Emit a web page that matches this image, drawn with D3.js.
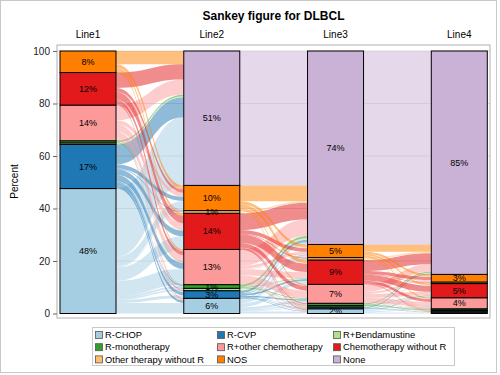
<!DOCTYPE html>
<html lang="en">
<head>
<meta charset="UTF-8">
<title>Sankey figure for DLBCL</title>
<style>
  body { margin: 0; background: #fff; }
  svg text { font-family: "Liberation Sans", Arial, sans-serif; }
</style>
</head>
<body>
<svg width="500" height="375" id="svg"></svg>
<script src="https://d3js.org/d3.v7.min.js"></script>
<script>
  // treatment categories, bottom of each bar first
  const categories = ["R-CHOP", "R-CVP", "R+Bendamustine", "R-monotherapy", "R+other chemotherapy",
    "Chemotherapy without R", "Other therapy without R", "NOS", "None"]
  const colors = ["#a6cee3", "#1f78b4", "#b2df8a", "#33a02c", "#fb9a99", "#e31a1c", "#fdbf6f", "#ff7f00", "#cab2d6"]
  const lines = ["Line1", "Line2", "Line3", "Line4"]
  const yTicks = [0, 20, 40, 60, 80, 100]

  // percent of patients in each category per line
  const line1 = [47.6, 16.8, 0.6, 0.8, 13.6, 12.4, 0, 8.2, 0]
  const line2 = [5.8, 2.9, 0.9, 1.4, 13.4, 13.8, 1.0, 9.6, 51.2]
  const line3 = [1.8, 0.7, 0.5, 0.9, 7.2, 9.3, 0.9, 5.0, 73.7]
  const line4 = [0.5, 0.5, 0.3, 0.5, 4.2, 5.4, 0.6, 2.9, 85.1]

  // flows between lines: row = source category, column = target category
  const flows12 = [
    [4.0, 1.2, 0.5, 0.8, 6.0, 5.0, 0.4, 3.7, 26.0],
    [1.0, 1.2, 0.2, 0.4, 2.4, 2.2, 0.2, 1.6, 7.6],
    [0, 0, 0, 0, 0.1, 0.1, 0, 0, 0.4],
    [0, 0, 0, 0.1, 0.2, 0, 0, 0, 0.5],
    [0.5, 0.3, 0.1, 0.1, 2.5, 2.6, 0.2, 1.5, 5.8],
    [0.2, 0.2, 0.1, 0, 1.5, 3.0, 0.2, 1.3, 5.9],
    [0, 0, 0, 0, 0, 0, 0, 0, 0],
    [0.1, 0, 0, 0, 0.7, 0.9, 0, 1.5, 5.0],
    [0, 0, 0, 0, 0, 0, 0, 0, 0]
  ]
  const flows23 = [
    [0.8, 0.2, 0.2, 0.2, 1.0, 1.4, 0.2, 1.0, 0.8],
    [0.2, 0.2, 0, 0.1, 0.5, 0.6, 0.1, 0.2, 1.0],
    [0, 0, 0, 0, 0.2, 0.1, 0, 0, 0.6],
    [0, 0, 0, 0.1, 0.3, 0.2, 0, 0, 0.8],
    [0.3, 0.1, 0.1, 0.2, 2.8, 2.4, 0.2, 1.0, 6.3],
    [0.3, 0.1, 0.1, 0.2, 1.8, 3.2, 0.3, 1.4, 6.4],
    [0, 0, 0, 0, 0, 0.2, 0, 0.2, 0.6],
    [0.2, 0.1, 0.1, 0.1, 0.6, 1.2, 0.1, 1.2, 6.0],
    [0, 0, 0, 0, 0, 0, 0, 0, 51.2]
  ]
  const flows34 = [
    [0.3, 0.1, 0, 0, 0.4, 0.6, 0.1, 0.2, 0.1],
    [0, 0.2, 0, 0, 0.1, 0.1, 0, 0, 0.3],
    [0, 0, 0.2, 0, 0.1, 0, 0, 0, 0.2],
    [0, 0, 0, 0.2, 0.1, 0.2, 0, 0, 0.4],
    [0.1, 0, 0, 0.1, 1.9, 1.4, 0.2, 0.6, 2.9],
    [0, 0.1, 0.1, 0.1, 1.1, 2.3, 0.2, 1.2, 4.2],
    [0, 0, 0, 0, 0, 0.2, 0, 0.2, 0.5],
    [0.1, 0.1, 0, 0.1, 0.5, 0.6, 0.1, 0.7, 2.8],
    [0, 0, 0, 0, 0, 0, 0, 0, 73.7]
  ]

  const lineValues = [line1, line2, line3, line4]
  const flowSets = [flows12, flows23, flows34]

  const svg = d3.select("svg#svg")
  const plot = { left: 57, right: 490, top: 45, bottom: 318 }
  const barWidth = 56

  const x = d3.scalePoint().domain(lines).range([88, 459.3])
  const y = d3.scaleLinear().domain([0, 100]).range([313.5, 51])

  // outer border
  svg.append("rect").attr("x", 0.5).attr("y", 0.5).attr("width", 496).attr("height", 372)
    .attr("fill", "#fff").attr("stroke", "#c8c8c8")

  // title
  svg.append("text").attr("x", (plot.left + plot.right) / 2).attr("y", 20)
    .attr("text-anchor", "middle").attr("font-size", 12).attr("font-weight", "bold")
    .text("Sankey figure for DLBCL")

  // grid lines
  svg.append("g").selectAll("line").data(yTicks.slice(1)).join("line")
    .attr("x1", plot.left).attr("x2", plot.right)
    .attr("y1", d => y(d)).attr("y2", d => y(d))
    .attr("stroke", "#e0e0e0")

  // flows
  const flowG = svg.append("g")
  flowSets.forEach((m, k) => {
    const x0 = x(lines[k]) + barWidth / 2
    const x1 = x(lines[k + 1]) - barWidth / 2
    const xm = (x0 + x1) / 2
    const srcOff = d3.cumsum([0, ...lineValues[k]]).slice(0, 9)
    const tgtOff = d3.cumsum([0, ...lineValues[k + 1]]).slice(0, 9)
    const ribbons = []
    m.forEach((row, i) => {
      row.forEach((v, j) => {
        if (v <= 0) return
        const s0 = srcOff[i], s1 = s0 + v
        const t0 = tgtOff[j], t1 = t0 + v
        srcOff[i] = s1
        tgtOff[j] = t1
        ribbons.push({ i, s0, s1, t0, t1 })
      })
    })
    flowG.selectAll(null).data(ribbons).join("path")
      .attr("d", d => `M${x0},${y(d.s1)}C${xm},${y(d.s1)} ${xm},${y(d.t1)} ${x1},${y(d.t1)}` +
        `L${x1},${y(d.t0)}C${xm},${y(d.t0)} ${xm},${y(d.s0)} ${x0},${y(d.s0)}Z`)
      .attr("fill", d => colors[d.i])
      .attr("fill-opacity", 0.5)
  })

  // stacked bars
  lines.forEach((ln, k) => {
    const vals = lineValues[k]
    const starts = d3.cumsum([0, ...vals])
    const segs = vals.map((v, i) => ({ i, v, y0: starts[i], y1: starts[i] + v })).filter(d => d.v > 0)
    const g = svg.append("g")
    g.selectAll("rect").data(segs).join("rect")
      .attr("x", x(ln) - barWidth / 2).attr("width", barWidth)
      .attr("y", d => y(d.y1)).attr("height", d => y(d.y0) - y(d.y1))
      .attr("fill", d => colors[d.i]).attr("stroke", "#000").attr("stroke-width", 1)
    g.selectAll("text").data(segs.filter(d => d.v >= 1)).join("text")
      .attr("x", x(ln)).attr("y", d => y((d.y0 + d.y1) / 2))
      .attr("dy", "0.35em").attr("text-anchor", "middle").attr("font-size", 9)
      .text(d => Math.round(d.v) + "%")
  })

  // line names
  svg.append("g").selectAll("text").data(lines).join("text")
    .attr("x", d => x(d)).attr("y", 38).attr("text-anchor", "middle")
    .attr("font-size", 10).text(d => d)

  // plot frame
  svg.append("rect").attr("x", plot.left).attr("y", plot.top)
    .attr("width", plot.right - plot.left).attr("height", plot.bottom - plot.top)
    .attr("fill", "none").attr("stroke", "#b0b0b0")

  // y axis
  const yAxis = d3.axisLeft(y).tickValues(yTicks).tickSize(4).tickPadding(3)
  const ag = svg.append("g").attr("transform", `translate(${plot.left},0)`).call(yAxis)
  ag.select(".domain").remove()
  ag.selectAll("line").attr("stroke", "#666")
  ag.selectAll("text").attr("font-size", 10).attr("fill", "#222")
    .style("font-family", "'Liberation Sans', Arial, sans-serif")

  svg.append("text").attr("transform", `translate(18,${(plot.top + plot.bottom) / 2}) rotate(-90)`)
    .attr("text-anchor", "middle").attr("font-size", 10).text("Percent")

  // legend
  const legend = svg.append("g")
  legend.append("rect").attr("x", 92.5).attr("y", 327.5).attr("width", 362).attr("height", 38)
    .attr("fill", "none").attr("stroke", "#c8c8c8")
  const colX = [95, 217, 333]
  const items = legend.selectAll("g").data(categories).join("g")
    .attr("transform", (d, i) => `translate(${colX[i % 3]},${334.5 + Math.floor(i / 3) * 12.2})`)
  items.append("rect").attr("x", 0.5).attr("y", -3).attr("width", 7).attr("height", 7)
    .attr("fill", (d, i) => colors[i]).attr("stroke", "#555").attr("stroke-width", 0.8)
  items.append("text").attr("x", 10).attr("y", 0.5).attr("dy", "0.35em")
    .attr("font-size", 9.4).text(d => d)
</script>
</body>
</html>
